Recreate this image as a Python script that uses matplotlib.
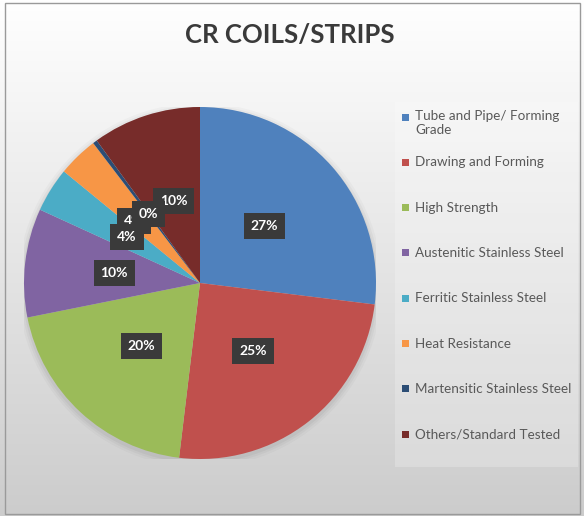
import numpy as np
import matplotlib
matplotlib.use("Agg")
import matplotlib.pyplot as plt
from matplotlib.patches import Rectangle

title = "CR COILS/STRIPS"
categories = ["Tube and Pipe/ Forming\nGrade", "Drawing and Forming", "High Strength",
              "Austenitic Stainless Steel", "Ferritic Stainless Steel", "Heat Resistance",
              "Martensitic Stainless Steel", "Others/Standard Tested"]
values = [27, 25, 20, 10, 4.1, 3.7, 0.4, 10]
pct_labels = ["27%", "25%", "20%", "10%", "4%", "4%", "0%", "10%"]
colors = ["#4F81BD", "#C0504D", "#9BBB59", "#8064A2", "#4BACC6", "#F79646", "#2C4D75", "#772C2A"]

W, H = 584, 516
fig = plt.figure(figsize=(W / 100, H / 100), dpi=100)

# background gradient
bg = fig.add_axes([0, 0, 1, 1], zorder=-10)
grad = np.linspace(0, 1, 256)[:, None]
top = np.array([1.0, 1.0, 1.0])
bot = np.array([0.80, 0.80, 0.80])
img = top[None, None, :] * (1 - grad[..., None]) + bot[None, None, :] * grad[..., None]
img = np.repeat(img, 2, axis=1)
bg.imshow(img, aspect="auto", extent=[0, W, H, 0])
bg.set_xlim(0, W)
bg.set_ylim(H, 0)
bg.axis("off")
bg.add_patch(Rectangle((4.5, 2.5), 575, 511, fill=False, ec="#9a9a9a", lw=1))
# legend box
bg.add_patch(Rectangle((395, 102), 183, 365, fc="white", alpha=0.22, ec="none"))

# title
fig.text(290 / W, 1 - 35 / H, title, ha="center", va="center", fontsize=18.5,
         fontweight="bold", color="#3a3a3a", family="Lato")

# pie
cx, cy, r = 200, 283, 176
ax = fig.add_axes([(cx - r) / W, (H - cy - r) / H, 2 * r / W, 2 * r / H])
# soft shadow
for k, a in zip([1.035, 1.022, 1.01], [0.025, 0.03, 0.04]):
    ax.add_patch(plt.Circle((0.0, -0.012), k, color="black", alpha=a, lw=0))
wedges, _ = ax.pie(values, colors=colors, startangle=90, counterclock=False,
                   radius=1, wedgeprops=dict(lw=0))
ax.set_aspect("equal")
ax.axis("off")
ax.set_xlim(-1, 1)
ax.set_ylim(-1, 1)

# stacking of the crowded small-slice labels (as in the reference)
zorders = {5: 3, 6: 6}
nudges = {5: (-6, 0)}
for i, (w, lab) in enumerate(zip(wedges, pct_labels)):
    ang = np.deg2rad((w.theta1 + w.theta2) / 2)
    d = 0.49
    x, y = d * np.cos(ang), d * np.sin(ang)
    nx, ny = nudges.get(i, (0, 0))
    ax.annotate(lab, (x, y), xytext=(nx, ny), textcoords="offset pixels",
                ha="center", va="center", color="white", fontsize=10,
                fontweight="bold", family="Lato", zorder=zorders.get(i, 4),
                bbox=dict(boxstyle="square,pad=0.5", fc="#3a3a3a", ec="none"))

# legend
y0, dy = 117, 45.3
for i, (c, lab) in enumerate(zip(colors, categories)):
    yy = y0 + dy * i
    bg.add_patch(Rectangle((402, yy - 3.5), 7, 7, fc=c, ec="none"))
    if "\n" in lab:
        bg.text(415, yy - 7, lab, ha="left", va="top", fontsize=9.7, color="#595959",
                family="Lato", linespacing=1.25)
    else:
        bg.text(415, yy, lab, ha="left", va="center", fontsize=9.7, color="#595959",
                family="Lato")

fig.savefig("out.png", dpi=100)
